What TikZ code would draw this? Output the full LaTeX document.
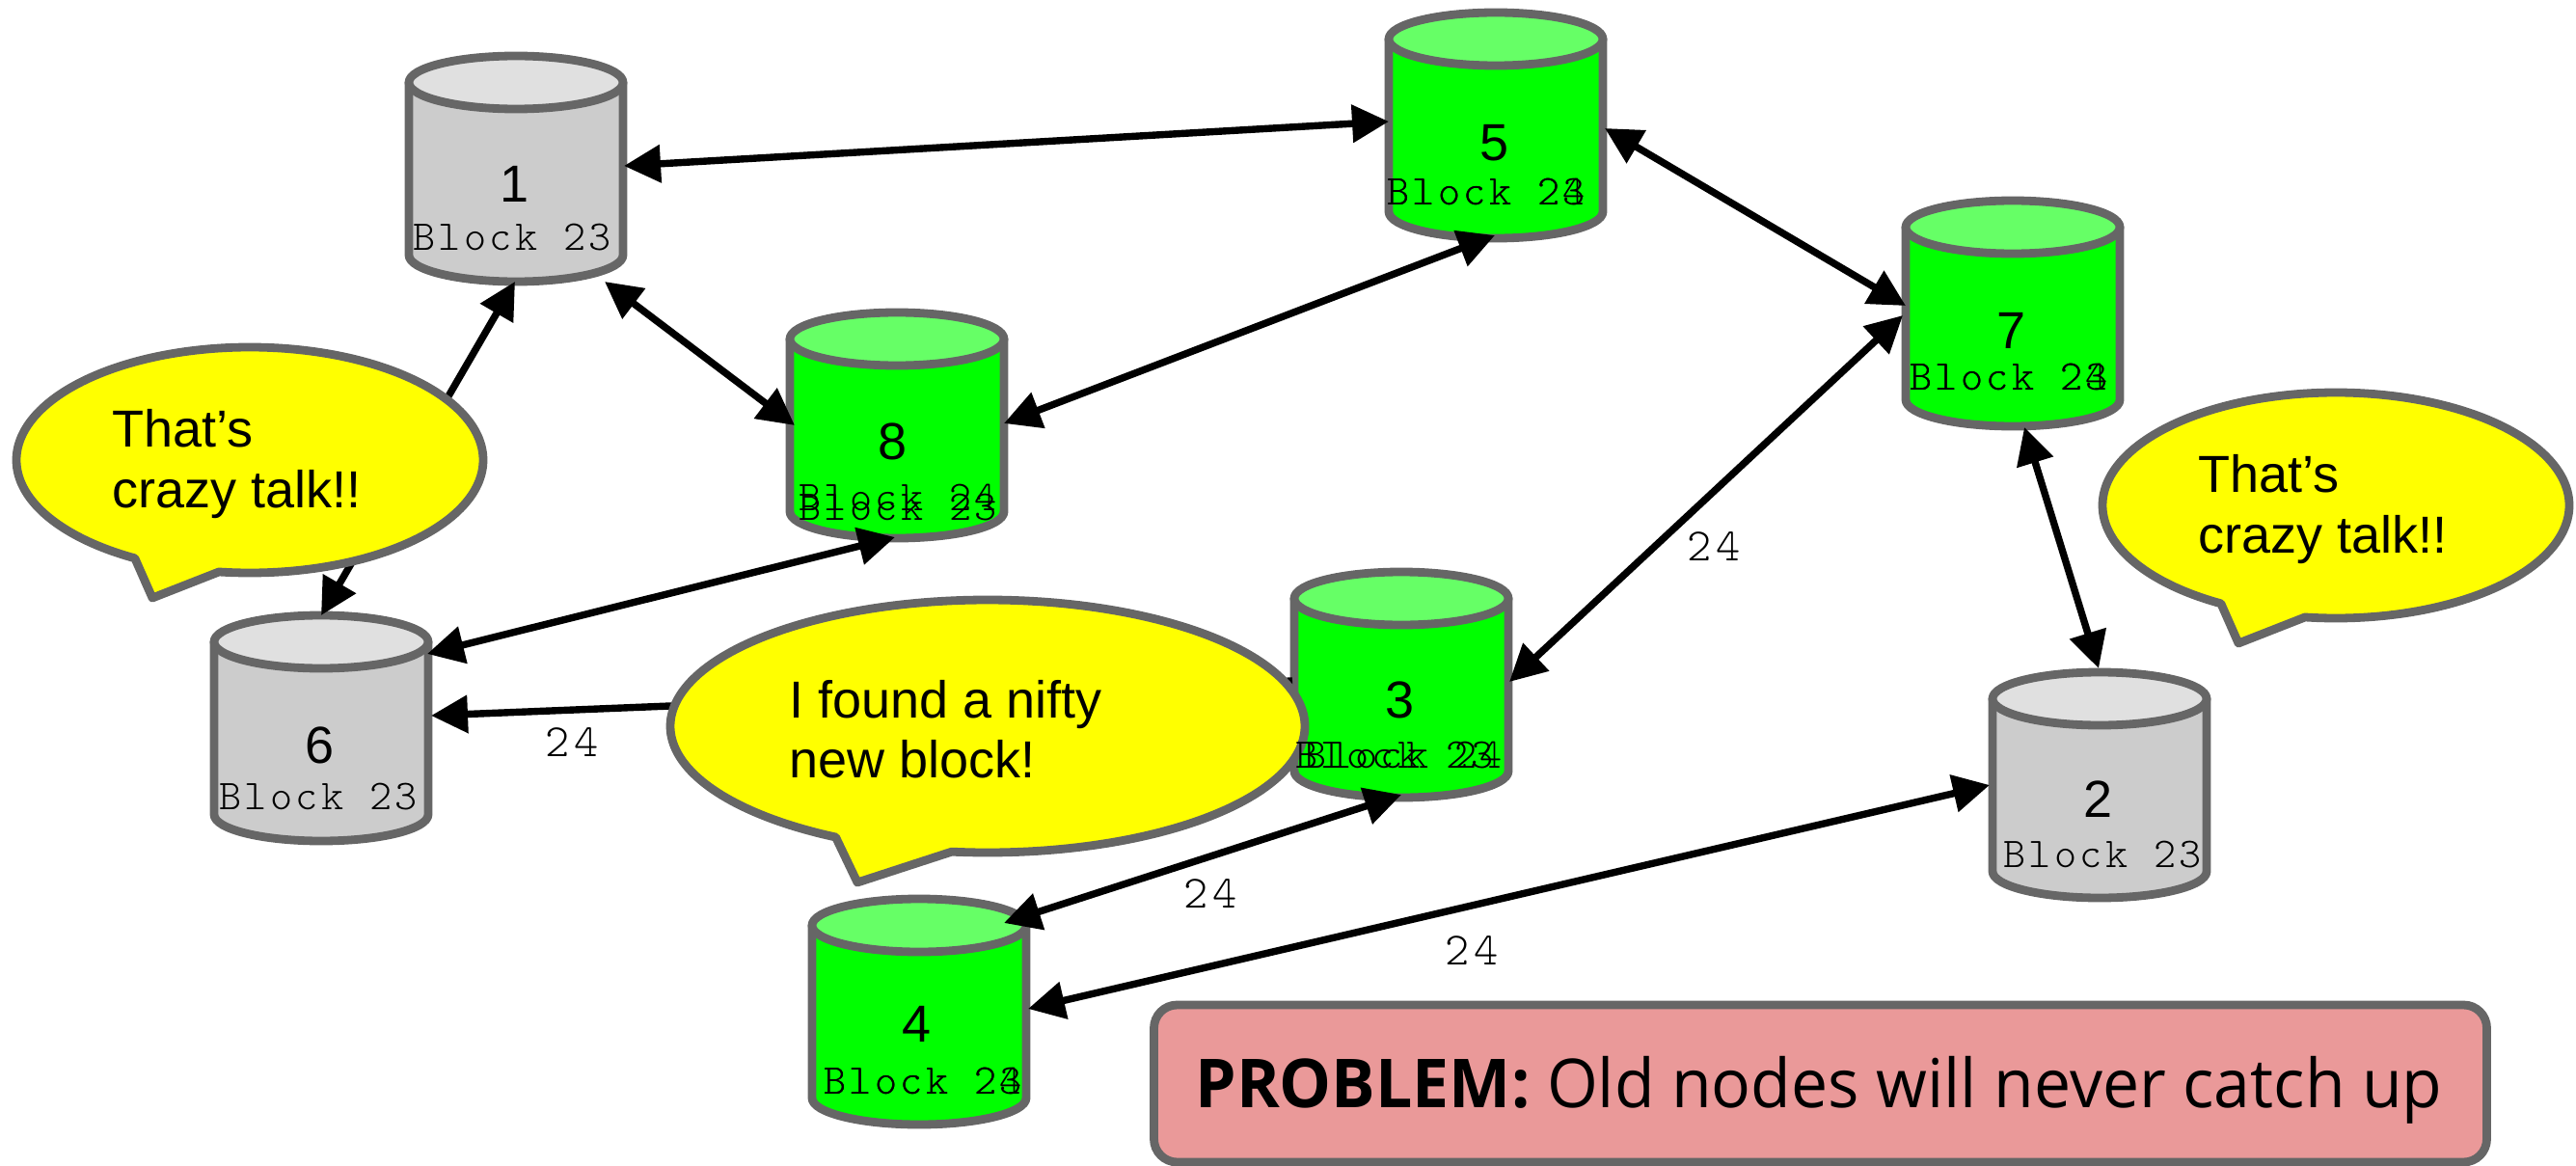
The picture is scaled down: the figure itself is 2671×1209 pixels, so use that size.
\documentclass[tikz,border=0pt]{standalone}
\usepackage{fontspec}
\setmainfont{Liberation Sans}
\newfontfamily\blockfont[LetterSpace=8]{Latin Modern Mono Light}
\newfontfamily\weightfont[LetterSpace=10]{Latin Modern Mono Light}
\newfontfamily\probfont[FakeStretch=0.97]{Open Sans}
\usetikzlibrary{arrows.meta,calc}
\definecolor{edgegrey}{HTML}{666666}
\definecolor{pinkfill}{HTML}{EA9999}
\definecolor{sayfill}{RGB}{255,255,0}
\definecolor{bodygreen}{RGB}{0,255,0}
\definecolor{topgreen}{RGB}{102,255,102}
\definecolor{bodygrey}{RGB}{204,204,204}
\definecolor{topgrey}{RGB}{224,224,224}
\tikzset{
  x=0.5pt,y=-0.5pt,
  dbbox/.style={minimum width=111pt,minimum height=117pt,outer sep=0pt,inner sep=0pt},
  dbline/.style={draw=edgegrey,line width=4.4pt,line join=round},
  numlabel/.style={anchor=base,inner sep=0pt,font=\fontsize{27}{27}\selectfont},
  blocklabel/.style={anchor=base,inner sep=0pt,font=\fontsize{22}{22}\blockfont},
  weightlabel/.style={anchor=center,inner sep=0pt,font=\fontsize{24}{24}\weightfont},
  link/.style={line width=3.7pt,{Triangle[length=19pt,width=19pt]}-{Triangle[length=19pt,width=19pt]}},
  onelink/.style={line width=3.7pt,-{Triangle[length=19pt,width=19pt]}},
  bubbleshape/.style={draw=edgegrey,fill=sayfill,line width=4.4pt,line join=round},
  saytext/.style={anchor=base west,inner sep=0pt,font=\fontsize{27}{27}\selectfont},
}
\newcommand{\speech}[8]{%
  \draw[bubbleshape] plot[domain=#5:#6+360,samples=240] ({#1+#3*cos(\x)},{#2+#4*sin(\x)}) -- (#7,#8) -- cycle;}
\newcommand{\dbshape}[3]{%
  \begin{scope}[shift={(#1.center)}]
  \draw[dbline,fill=#2] (-111,-89.5) -- (-111,89.5) arc[start angle=180,end angle=360,x radius=55.5pt,y radius=13.75pt] -- (111,-89.5) -- cycle;
  \draw[dbline,fill=#3] (0,-89.5) ellipse[x radius=55.5pt,y radius=13.75pt];
  \end{scope}}
\begin{document}
\begin{tikzpicture}
\useasboundingbox (0,0) rectangle (2671,1209);
% cylinders
\node[dbbox] (c1) at (535,175) {};
\node[dbbox] (c5) at (1551,130) {};
\node[dbbox] (c8) at (930,441) {};
\node[dbbox] (c7) at (2087,325) {};
\node[dbbox] (c6) at (333,755) {};
\node[dbbox] (c3) at (1453,710) {};
\node[dbbox] (c4) at (953,1049) {};
\node[dbbox] (c2) at (2177,814) {};
\dbshape{c1}{bodygrey}{topgrey}
\dbshape{c2}{bodygrey}{topgrey}
\dbshape{c6}{bodygrey}{topgrey}
\dbshape{c3}{bodygreen}{topgreen}
\dbshape{c4}{bodygreen}{topgreen}
\dbshape{c5}{bodygreen}{topgreen}
\dbshape{c7}{bodygreen}{topgreen}
\dbshape{c8}{bodygreen}{topgreen}
% connectors
\draw[link] ($(c1.center)+(112,-3)$) -- ($(c5.center)+(-111,-4)$);
\draw[link] ($(c1.center)+(92,117)$) -- ($(c8.center)+(-106,0)$);
\draw[link] ($(c5.center)+(-1,114)$) -- ($(c8.center)+(111,-2)$);
\draw[link] ($(c5.center)+(113,3)$) -- ($(c7.center)+(-111,-8)$);
\draw[link] ($(c7.center)+(-114,2)$) -- ($(c3.center)+(112,-3)$);
\draw[link] ($(c7.center)+(12,118)$) -- ($(c2.center)+(-1,-121)$);
\draw[link] ($(c8.center)+(-2,116)$) -- ($(c6.center)+(110,-77)$);
\draw[onelink] ($(c3.center)+(-113,-4)$) -- ($(c6.center)+(114,-13)$);
\draw[link] ($(c1.center)+(-1,117)$) -- ($(c6.center)+(0,-117)$);
\draw[link] ($(c3.center)+(0,114)$) -- ($(c4.center)+(88,-92)$);
\draw[link] ($(c2.center)+(-114,0)$) -- ($(c4.center)+(113,-3)$);
% bubbles
\speech{259}{477}{242}{117}{119.5}{97.6}{158}{620}
\speech{2422}{524}{242}{117}{119.5}{97.6}{2321}{667}
\speech{1024}{753}{329}{131}{118.6}{96.5}{889}{915}
\node[saytext] (s1a) at (116,463) {That’s};
\node[saytext] (s1b) at (116,526) {crazy talk!!};
\node[saytext] (s2a) at (2279,510) {That’s};
\node[saytext] (s2b) at (2279,573) {crazy talk!!};
\node[saytext] (s3a) at (818,744) {I found a nifty};
\node[saytext] (s3b) at (818,806) {new block!};
% numbers
\node[numlabel] (n1) at (534,210) {1};
\node[numlabel] (n2) at (2175,847) {2};
\node[numlabel] (n3) at (1451,744) {3};
\node[numlabel] (n4) at (951,1080) {4};
\node[numlabel] (n5) at (1549,167) {5};
\node[numlabel] (n6) at (332,791) {6};
\node[numlabel] (n7) at (2085,361) {7};
\node[numlabel] (n8) at (926,476) {8};
% block labels
\node[blocklabel] (b1) at (531,260) {Block 23};
\node[blocklabel] (b2) at (2180,899) {Block 23};
\node[blocklabel] (b3a) at (1446,796) {Block 23};
\node[blocklabel] (b3b) at (1455,796) {Block 24};
\node[blocklabel] (b4a) at (957,1134) {Block 23};
\node[blocklabel] (b4b) at (957,1134) {Block 24};
\node[blocklabel] (b5a) at (1541,213) {Block 23};
\node[blocklabel] (b5b) at (1541,213) {Block 24};
\node[blocklabel] (b6) at (330,839) {Block 23};
\node[blocklabel] (b7a) at (2083,404) {Block 23};
\node[blocklabel] (b7b) at (2083,404) {Block 24};
\node[blocklabel] (b8a) at (931,529) {Block 24};
\node[blocklabel] (b8b) at (931,539) {Block 23};
% weights
\node[weightlabel] (w1) at (1777,567) {24};
\node[weightlabel] (w2) at (593,770) {24};
\node[weightlabel] (w3) at (1255,927) {24};
\node[weightlabel] (w4) at (1526,986) {24};
% problem box
\node[draw=edgegrey,fill=pinkfill,line width=4.4pt,rounded corners=12pt,minimum width=691pt,minimum height=81.5pt,outer sep=0pt] (prob) at (1887.5,1123.5) {};
\node[anchor=base,inner sep=0pt,font=\fontsize{35}{35}\probfont] (probtext) at (1886,1148) {\textbf{PROBLEM:} Old nodes will never catch up};
\end{tikzpicture}
\end{document}
